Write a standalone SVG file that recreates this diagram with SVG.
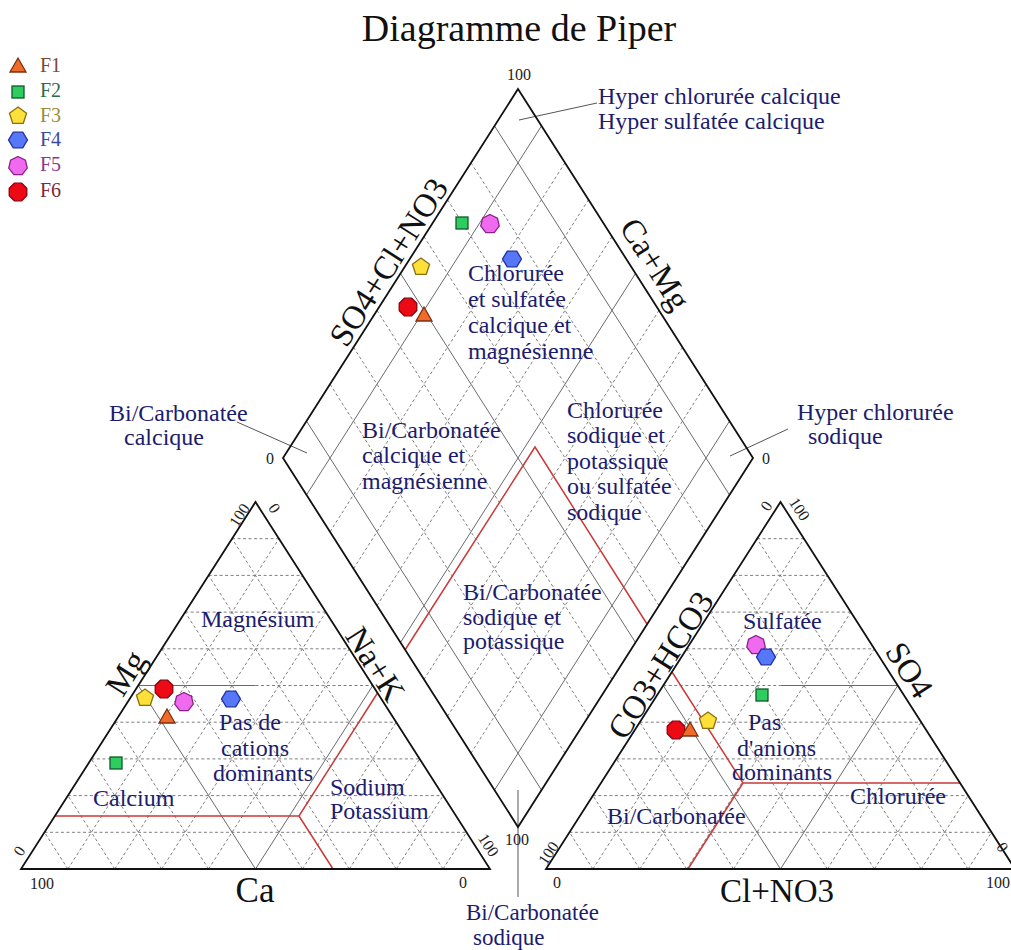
<svg xmlns="http://www.w3.org/2000/svg" xmlns:xlink="http://www.w3.org/1999/xlink" width="1011" height="950" viewBox="0 0 1011 950">
<style>
.edge{fill:none;stroke:#111;stroke-width:1.8;stroke-linejoin:miter}
.dash{fill:none;stroke:#707070;stroke-width:0.9;stroke-dasharray:3 2.5}
.solid{fill:none;stroke:#6a6a6a;stroke-width:1}
.red{fill:none;stroke:#c93a3a;stroke-width:1.5}
.call{fill:none;stroke:#555;stroke-width:1}
text{font-family:"Liberation Serif","Times New Roman",serif}
.reg{font-size:24px;fill:#1c1c6e}
.axis{font-size:33px;fill:#111}
.tick{font-size:16px;fill:#222}
.title{font-size:38px;fill:#111}
.leg{font-size:20px}
.m1{fill:#f06a2a;stroke:#7a3010;stroke-width:1.3}
.m2{fill:#2fcc60;stroke:#0e5a2a;stroke-width:1.3}
.m3{fill:#fde03a;stroke:#8a7010;stroke-width:1.3}
.m4{fill:#5577f8;stroke:#1f30a0;stroke-width:1.3}
.m5{fill:#f06af0;stroke:#8a208a;stroke-width:1.3}
.m6{fill:#ee0a14;stroke:#8a0010;stroke-width:1.3}
</style>
<defs>
<polygon id="tri" class="m1" points="0,-8 8,6 -8,6"/>
<rect id="sq" class="m2" x="-6" y="-6" width="12" height="12"/>
<polygon id="pent" class="m3" points="0,-9 8.56,-2.78 5.29,7.28 -5.29,7.28 -8.56,-2.78"/>
<polygon id="hex" class="m4" points="9.5,0 4.75,7.8 -4.75,7.8 -9.5,0 -4.75,-7.8 4.75,-7.8"/>
<polygon id="hept" class="m5" points="0,-9.5 7.43,-5.92 9.26,2.11 4.12,8.56 -4.12,8.56 -9.26,2.11 -7.43,-5.92"/>
<polygon id="oct" class="m6" points="8.78,3.64 3.64,8.78 -3.64,8.78 -8.78,3.64 -8.78,-3.64 -3.64,-8.78 3.64,-8.78 8.78,-3.64"/>
<g id="triGrid">
<path class="dash" d="M44.45 832.3H466.55M67.9 795.6H443.1M91.35 758.9H419.65M114.8 722.2H396.2M161.7 648.8H349.3M185.15 612.1H325.85M208.6 575.4H302.4M232.05 538.7H278.95"/>
<path class="dash" d="M67.9 869L278.95 538.7M114.8 869L302.4 575.4M161.7 869L325.85 612.1M208.6 869L349.3 648.8M302.4 869L396.2 722.2M349.3 869L419.65 758.9M396.2 869L443.1 795.6M443.1 869L466.55 832.3"/>
<path class="dash" d="M443.1 869L232.05 538.7M396.2 869L208.6 575.4M349.3 869L185.15 612.1M302.4 869L161.7 648.8M208.6 869L114.8 722.2M161.7 869L91.35 758.9M114.8 869L67.9 795.6M67.9 869L44.45 832.3"/>
<path class="solid" d="M255.5 869L372.75 685.5M255.5 869L138.25 685.5"/>
</g>
</defs>
<rect width="1011" height="950" fill="#fff"/>

<g id="grids">
<use xlink:href="#triGrid"/>
<use xlink:href="#triGrid" transform="translate(525,0)"/>
<path class="dash" d="M255.5 685.5H372.75M663.25 685.5H780.5"/>
<path class="solid" d="M138.25 685.5H255.5M780.5 685.5H897.75"/>
<path class="dash" d="M330 384.2L565 753.2M353.5 347.3L588.5 716.3M377 310.4L612 679.4M424 236.6L659 605.6M447.5 199.7L682.5 568.7M471 162.8L706 531.8"/>
<path class="dash" d="M330 531.8L565 162.8M353.5 568.7L588.5 199.7M377 605.6L612 236.6M424 679.4L659 310.4M447.5 716.3L682.5 347.3M471 753.2L706 384.2"/>
<path class="solid" d="M306.5 421.1L541.5 790.1M400.5 273.5L635.5 642.5M494.5 125.9L729.5 494.9M306.5 494.9L541.5 125.9M400.5 642.5L635.5 273.5M494.5 790.1L729.5 421.1"/>
</g>

<g id="connectors">
<path class="red" d="M54.9 816H299L377.5 693M299 816L333 869"/>
<path class="red" d="M405 650L535 447L647 624"/>
<path class="red" d="M672 672L743 783H960M743 783L688 869"/>
<path class="call" d="M597 103L519 120M237 422L307 453M788 429L730 456M518 790V897"/>
</g>

<g id="frames">
<path class="edge" d="M21 869H490L255.5 502Z"/>
<path class="edge" d="M546 869H1015L780.5 502Z"/>
<path class="edge" d="M518 89L753 458L518 827L283 458Z"/>
</g>

<g id="title"><text class="title" x="519" y="41" text-anchor="middle">Diagramme de Piper</text></g>

<g id="legend">
<use xlink:href="#tri" x="18" y="66"/><text class="leg" x="40" y="72" fill="#7b4a2a">F1</text>
<use xlink:href="#sq" x="18" y="92"/><text class="leg" x="40" y="97" fill="#2d6a4a">F2</text>
<use xlink:href="#pent" x="18" y="116"/><text class="leg" x="40" y="122" fill="#9a8c3a">F3</text>
<use xlink:href="#hex" x="18" y="140"/><text class="leg" x="40" y="146" fill="#3a4aa0">F4</text>
<use xlink:href="#hept" x="18" y="166"/><text class="leg" x="40" y="171" fill="#8a3a8a">F5</text>
<use xlink:href="#oct" x="18" y="192"/><text class="leg" x="40" y="197" fill="#7a2a3a">F6</text>
</g>

<g id="axis-labels">
<text class="axis" text-anchor="middle" transform="translate(398,268) rotate(-57.5)">SO4+Cl+NO3</text>
<text class="axis" text-anchor="middle" transform="translate(646,270) rotate(57.5)">Ca+Mg</text>
<text class="axis" text-anchor="middle" transform="translate(135,679) rotate(-57.5)">Mg</text>
<text class="axis" text-anchor="middle" transform="translate(366,670) rotate(57.5)">Na+K</text>
<text class="axis" text-anchor="middle" transform="translate(670,671) rotate(-57.5)">CO3+HCO3</text>
<text class="axis" text-anchor="middle" transform="translate(900,676) rotate(57.5)">SO4</text>
<text class="axis" x="255" y="902" text-anchor="middle" style="font-size:35px">Ca</text>
<text class="axis" x="777" y="902" text-anchor="middle">Cl+NO3</text>
</g>

<g id="ticks">
<text class="tick" x="519" y="80" text-anchor="middle">100</text>
<text class="tick" x="270" y="464" text-anchor="middle">0</text>
<text class="tick" x="766" y="464" text-anchor="middle">0</text>
<text class="tick" x="517" y="845" text-anchor="middle">100</text>
<text class="tick" text-anchor="middle" transform="translate(244,518) rotate(-57.5)">100</text>
<text class="tick" text-anchor="middle" transform="translate(270,511) rotate(57.5)">0</text>
<text class="tick" text-anchor="middle" transform="translate(24,854) rotate(-57.5)">0</text>
<text class="tick" x="42" y="889" text-anchor="middle">100</text>
<text class="tick" text-anchor="middle" transform="translate(484,848) rotate(57.5)">100</text>
<text class="tick" x="463" y="888" text-anchor="middle">0</text>
<text class="tick" text-anchor="middle" transform="translate(771,509) rotate(-57.5)">0</text>
<text class="tick" text-anchor="middle" transform="translate(795,512) rotate(57.5)">100</text>
<text class="tick" text-anchor="middle" transform="translate(553,856) rotate(-57.5)">100</text>
<text class="tick" x="557" y="888" text-anchor="middle">0</text>
<text class="tick" x="986" y="888">100</text>
<text class="tick" text-anchor="middle" transform="translate(998,850) rotate(57.5)">0</text>
</g>

<g id="regions">
<text class="reg" x="598" y="104">Hyper chlorurée calcique</text>
<text class="reg" x="598" y="129">Hyper sulfatée calcique</text>
<text class="reg" x="468" y="281">Chlorurée</text>
<text class="reg" x="468" y="307">et sulfatée</text>
<text class="reg" x="468" y="333">calcique et</text>
<text class="reg" x="468" y="359">magnésienne</text>
<text class="reg" x="109" y="421">Bi/Carbonatée</text>
<text class="reg" x="124" y="445">calcique</text>
<text class="reg" x="362" y="438">Bi/Carbonatée</text>
<text class="reg" x="362" y="463">calcique et</text>
<text class="reg" x="362" y="489">magnésienne</text>
<text class="reg" x="797" y="420">Hyper chlorurée</text>
<text class="reg" x="808" y="444">sodique</text>
<text class="reg" x="567" y="418">Chlorurée</text>
<text class="reg" x="567" y="443">sodique et</text>
<text class="reg" x="567" y="469">potassique</text>
<text class="reg" x="567" y="494">ou sulfatée</text>
<text class="reg" x="567" y="520">sodique</text>
<text class="reg" x="463" y="600">Bi/Carbonatée</text>
<text class="reg" x="463" y="625">sodique et</text>
<text class="reg" x="463" y="649">potassique</text>
<text class="reg" x="466" y="920" style="font-size:23px">Bi/Carbonatée</text>
<text class="reg" x="473" y="945" style="font-size:23px">sodique</text>
<text class="reg" x="201" y="627">Magnésium</text>
<text class="reg" x="219" y="730">Pas de</text>
<text class="reg" x="221" y="756">cations</text>
<text class="reg" x="213" y="781">dominants</text>
<text class="reg" x="93" y="806">Calcium</text>
<text class="reg" x="330" y="795">Sodium</text>
<text class="reg" x="330" y="819">Potassium</text>
<text class="reg" x="743" y="629">Sulfatée</text>
<text class="reg" x="748" y="730">Pas</text>
<text class="reg" x="737" y="756">d'anions</text>
<text class="reg" x="732" y="780">dominants</text>
<text class="reg" x="850" y="804">Chlorurée</text>
<text class="reg" x="607" y="824">Bi/Carbonatée</text>
</g>

<g id="points">
<use xlink:href="#sq" x="462" y="223"/>
<use xlink:href="#hept" x="490" y="224"/>
<use xlink:href="#hex" x="512" y="259"/>
<use xlink:href="#pent" x="421" y="267"/>
<use xlink:href="#oct" x="408" y="307"/>
<use xlink:href="#tri" x="424" y="315"/>
<use xlink:href="#oct" x="164" y="689"/>
<use xlink:href="#pent" x="145" y="698"/>
<use xlink:href="#hept" x="184" y="702"/>
<use xlink:href="#hex" x="231" y="699"/>
<use xlink:href="#tri" x="167" y="717"/>
<use xlink:href="#sq" x="116" y="763"/>
<use xlink:href="#hept" x="756" y="645"/>
<use xlink:href="#hex" x="766" y="657"/>
<use xlink:href="#sq" x="762" y="695"/>
<use xlink:href="#pent" x="708" y="721"/>
<use xlink:href="#oct" x="676" y="730"/>
<use xlink:href="#tri" x="690" y="730"/>
</g>
</svg>
